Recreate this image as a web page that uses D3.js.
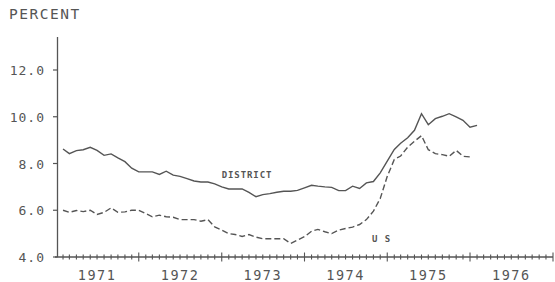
<!DOCTYPE html>
<html>
<head>
<meta charset="utf-8">
<script src="https://cdn.jsdelivr.net/npm/d3@7"></script>
<style>
  body { margin: 0; background: #fff; }
  svg text { font-family: "DejaVu Sans Mono", monospace; fill: #555; }
</style>
</head>
<body>
<svg id="chart" width="555" height="282"></svg>
<script>
// monthly unemployment rates, Jan 1971 onward
const district = [
  8.62, 8.42, 8.55, 8.59, 8.69, 8.56, 8.35, 8.41, 8.24, 8.08, 7.80, 7.64,
  7.64, 7.64, 7.53, 7.67, 7.50, 7.45, 7.35, 7.25, 7.21, 7.21, 7.13, 7.00,
  6.91, 6.91, 6.91, 6.76, 6.58, 6.67, 6.71, 6.77, 6.81, 6.81, 6.85, 6.96,
  7.07, 7.03, 7.00, 6.98, 6.84, 6.84, 7.03, 6.93, 7.17, 7.23, 7.60, 8.10,
  8.60, 8.87, 9.10, 9.42, 10.13, 9.66, 9.92, 10.02, 10.13, 9.99, 9.85, 9.55,
  9.63
];
const us = [
  6.00, 5.91, 5.99, 5.94, 6.00, 5.82, 5.91, 6.10, 5.91, 5.93, 6.00, 6.00,
  5.86, 5.72, 5.79, 5.72, 5.70, 5.60, 5.60, 5.60, 5.53, 5.60, 5.29, 5.15,
  5.00, 4.96, 4.88, 4.96, 4.85, 4.78, 4.78, 4.78, 4.78, 4.58, 4.72, 4.87,
  5.10, 5.18, 5.08, 5.00, 5.15, 5.22, 5.28, 5.39, 5.60, 5.96, 6.50, 7.45,
  8.17, 8.32, 8.70, 8.95, 9.19, 8.59, 8.42, 8.38, 8.31, 8.56, 8.31, 8.28
];
const yTicks = [4, 6, 8, 10, 12];
const years = [1971, 1972, 1973, 1974, 1975, 1976];

const svg = d3.select('#chart');

const x = d3.scaleTime()
  .domain([new Date(1971, 0, 1), new Date(1977, 0, 1)])
  .range([56, 553]);
const y = d3.scaleLinear().domain([4, 12]).range([257, 70]);

// a month's value sits at the end of that month
const monthDate = i => new Date(1971, i + 1, 1);

const ink = '#555';

// y axis
svg.append('line')
  .attr('x1', 57.5).attr('x2', 57.5)
  .attr('y1', 37).attr('y2', y(4))
  .attr('stroke', ink).attr('stroke-width', 1.3);

svg.selectAll('.ytick').data(yTicks).enter().append('line')
  .attr('x1', 53).attr('x2', 57.5)
  .attr('y1', d => y(d)).attr('y2', d => y(d))
  .attr('stroke', ink).attr('stroke-width', 1.2);

svg.selectAll('.ylab').data(yTicks).enter().append('text')
  .attr('x', 45).attr('y', d => y(d) + 5)
  .attr('text-anchor', 'end')
  .attr('font-size', 13)
  .attr('letter-spacing', 1)
  .text(d => d.toFixed(1));

svg.append('text')
  .attr('x', 9).attr('y', 19)
  .attr('font-size', 14.5)
  .attr('letter-spacing', 1.5)
  .text('PERCENT');

// x axis
svg.append('line')
  .attr('x1', 55).attr('x2', 553)
  .attr('y1', y(4)).attr('y2', y(4))
  .attr('stroke', ink).attr('stroke-width', 1.3);

const months = d3.timeMonth.range(new Date(1971, 1, 1), new Date(1977, 0, 2));
svg.selectAll('.xtick').data(months).enter().append('line')
  .attr('x1', d => x(d)).attr('x2', d => x(d))
  .attr('y1', d => y(4) - (d.getMonth() === 0 ? 4.5 : 2.5))
  .attr('y2', d => y(4) + (d.getMonth() === 0 ? 4.5 : 2.5))
  .attr('stroke', ink).attr('stroke-width', 1.1);

svg.selectAll('.xlab').data(years).enter().append('text')
  .attr('x', d => x(new Date(d, 6, 1)))
  .attr('y', 280)
  .attr('text-anchor', 'middle')
  .attr('font-size', 13.5)
  .attr('letter-spacing', 1.5)
  .text(d => d);

// series
const line = d3.line()
  .x((d, i) => x(monthDate(i)))
  .y(d => y(d));

svg.append('path')
  .datum(district)
  .attr('d', line)
  .attr('fill', 'none')
  .attr('stroke', ink).attr('stroke-width', 1.4);

svg.append('path')
  .datum(us)
  .attr('d', line)
  .attr('fill', 'none')
  .attr('stroke', ink).attr('stroke-width', 1.4)
  .attr('stroke-dasharray', '6,3');

svg.append('text')
  .attr('x', x(new Date(1973, 0, 1)))
  .attr('y', y(7.56) + 4)
  .attr('font-size', 9)
  .attr('font-weight', 'bold')
  .attr('letter-spacing', 0.9)
  .text('DISTRICT');

svg.append('text')
  .attr('x', x(new Date(1974, 9, 26)))
  .attr('y', y(4.83) + 4)
  .attr('font-size', 9)
  .attr('font-weight', 'bold')
  .attr('letter-spacing', 0.9)
  .text('U S');
</script>
</body>
</html>
